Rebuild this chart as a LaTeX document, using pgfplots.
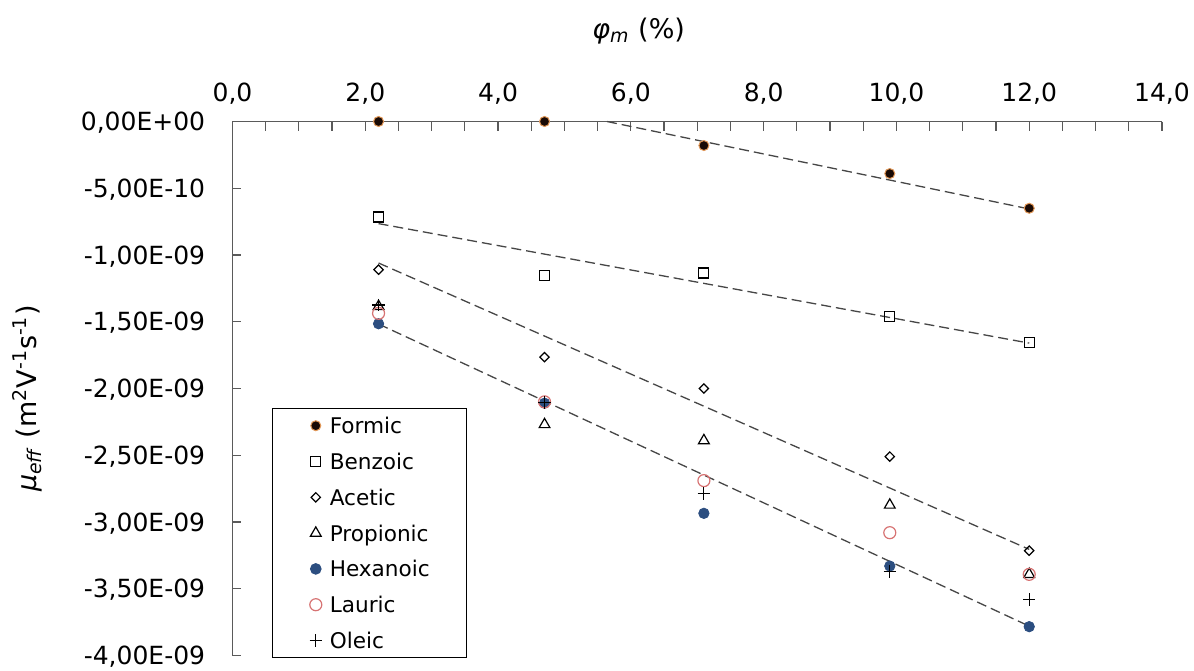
\documentclass[border=0pt]{standalone}
\usepackage{fontspec}
\setmainfont{DejaVu Sans}
\usepackage{pgfplots}
\pgfplotsset{compat=1.18}
\definecolor{formicfill}{RGB}{25,10,5}
\definecolor{formicedge}{RGB}{225,150,85}
\definecolor{hexblue}{RGB}{44,78,128}
\definecolor{lauricred}{RGB}{215,115,115}
\definecolor{trend}{RGB}{70,70,70}
\definecolor{axisgray}{RGB}{90,90,90}
\newcommand{\legtext}[1]{\makebox[66.5pt][l]{#1}}
\begin{document}
\begin{tikzpicture}
\begin{axis}[
  scale only axis, width=464.75pt, height=267pt,
  xmin=0, xmax=14, ymin=-4, ymax=0,
  clip=false,
  axis x line*=top, axis y line*=left,
  axis line style={axisgray, line width=0.7pt, -},
  xtick={0,2,4,6,8,10,12,14},
  xticklabels={{0,0},{2,0},{4,0},{6,0},{8,0},{10,0},{12,0},{14,0}},
  minor x tick num=3,
  ytick={-4,-3.5,-3,-2.5,-2,-1.5,-1,-0.5,0},
  yticklabels={{-4,00E-09},{-3,50E-09},{-3,00E-09},{-2,50E-09},{-2,00E-09},{-1,50E-09},{-1,00E-09},{-5,00E-10},{0,00E+00}},
  tick align=inside,
  major tick length=4.5pt, minor tick length=4.5pt,
  tick style={axisgray, line width=0.6pt},
  tick label style={font=\fontsize{12.5}{15}\selectfont},
  xticklabel style={inner sep=0pt, text depth=0pt, anchor=south, yshift=9.75pt},
  yticklabel style={inner sep=0pt, text height=9.2pt, text depth=0pt, anchor=east, xshift=-13.5pt},
  xlabel={\textit{φ}\textsubscript{\textit{m}} (\%)},
  xlabel style={at={(axis description cs:0.437,1.1695)}, anchor=center, font=\fontsize{13.5}{16}\selectfont},
  ylabel={\textit{μ}\textsubscript{\textit{eff}} (m\textsuperscript{2}V\textsuperscript{-1}s\textsuperscript{-1})},
  ylabel style={at={(axis description cs:-0.2205,0.481)}, anchor=center, font=\fontsize{13.5}{16}\selectfont},
  legend style={at={(axis description cs:0.0425,-0.0047)}, anchor=south west,
    draw=black, line width=0.6pt, inner xsep=0pt, inner ysep=4.5pt, row sep=10pt,
    font=\fontsize{10.8}{13}\selectfont,
    nodes={inner xsep=2pt, inner ysep=0pt, text height=7.9pt, text depth=0pt}},
  legend cell align=left,
  legend image code/.code={\path (0pt,0pt) (26pt,0pt); \draw[#1] plot coordinates {(21.3pt,0pt)};},
]
\coordinate (O) at (rel axis cs:0,0);
% trend lines
\addplot[forget plot, trend, dash pattern=on 5pt off 2.5pt, line width=0.65pt] coordinates {(5.64,0) (12,-0.655)};
\addplot[forget plot, trend, dash pattern=on 5pt off 2.5pt, line width=0.65pt] coordinates {(2.2,-0.765) (12,-1.66)};
\addplot[forget plot, trend, dash pattern=on 5pt off 2.5pt, line width=0.65pt] coordinates {(2.2,-1.06) (12,-3.205)};
\addplot[forget plot, trend, dash pattern=on 5pt off 2.5pt, line width=0.65pt] coordinates {(2.2,-1.517) (12,-3.78)};
% data
\addplot[only marks, mark=*, mark size=2.5pt, mark options={draw=formicedge, fill=formicfill, line width=0.5pt}]
  coordinates {(2.2,0) (4.7,0) (7.1,-0.18) (9.9,-0.39) (12,-0.65)};
\addlegendentry{\legtext{Formic}}
\addplot[only marks, mark=square, mark size=2.5pt, mark options={draw=black, line width=0.6pt}]
  coordinates {(2.2,-0.715) (4.7,-1.155) (7.1,-1.135) (9.9,-1.46) (12,-1.655)};
\addlegendentry{\legtext{Benzoic}}
\addplot[only marks, mark=square, mark size=1.65pt, mark options={draw=black, line width=0.6pt, rotate=45}]
  coordinates {(2.2,-1.11) (4.7,-1.765) (7.1,-2.0) (9.9,-2.51) (12,-3.215)};
\addlegendentry{\legtext{Acetic}}
\addplot[only marks, mark=triangle, mark size=3.1pt, mark options={draw=black, line width=0.6pt}]
  coordinates {(2.2,-1.385) (4.7,-2.27) (7.1,-2.39) (9.9,-2.873) (12,-3.392)};
\addlegendentry{\legtext{Propionic}}
\addplot[only marks, mark=*, mark size=2.6pt, mark options={draw=hexblue, fill=hexblue}]
  coordinates {(2.2,-1.515) (4.7,-2.11) (7.1,-2.935) (9.9,-3.33) (12,-3.784)};
\addlegendentry{\legtext{Hexanoic}}
\addplot[only marks, mark=o, mark size=3pt, mark options={draw=lauricred, line width=0.6pt}]
  coordinates {(2.2,-1.437) (4.7,-2.10) (7.1,-2.69) (9.9,-3.08) (12,-3.392)};
\addlegendentry{\legtext{Lauric}}
\addplot[only marks, mark=+, mark size=3.1pt, mark options={draw=black, line width=0.6pt}]
  coordinates {(2.2,-1.375) (4.7,-2.105) (7.1,-2.785) (9.9,-3.372) (12,-3.579)};
\addlegendentry{\legtext{Oleic}}
\end{axis}
\pgfresetboundingbox
\path[use as bounding box] (O) ++(-116.25pt,-7.25pt) rectangle ++(597pt,335pt);
\end{tikzpicture}
\end{document}
